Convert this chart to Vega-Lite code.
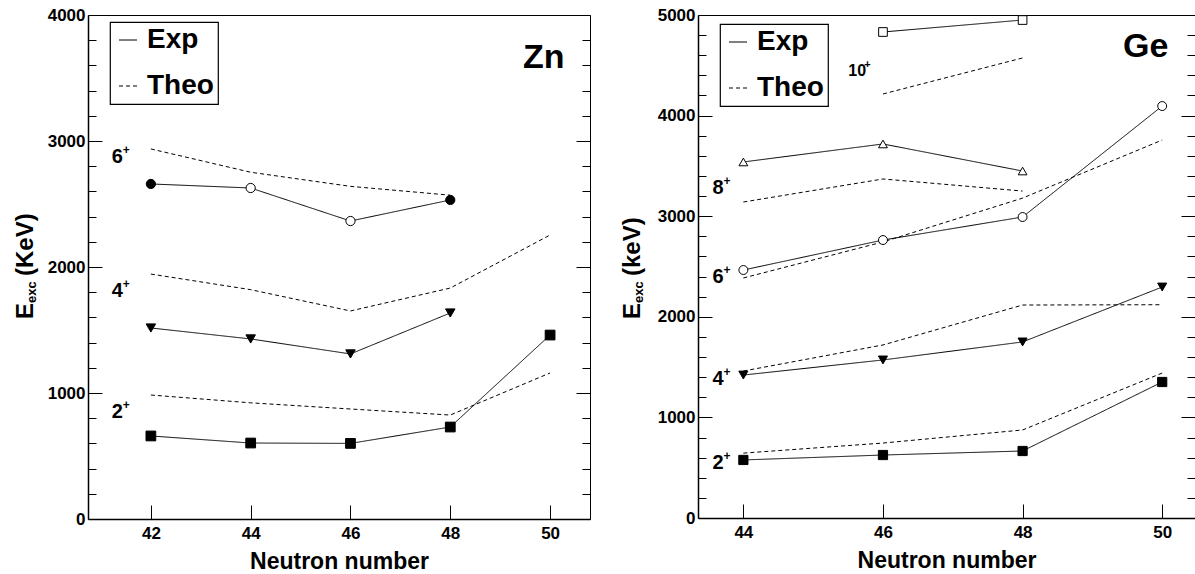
{
  "$schema": "https://vega.github.io/schema/vega-lite/v6.json",
  "background": "white",
  "padding": {"left": 13, "top": 6, "right": 0, "bottom": 0},
  "spacing": 30,
  "config": {
    "font": "Liberation Sans",
    "view": {"stroke": null},
    "axis": {"grid": false, "labelFont": "Liberation Sans", "labelFontWeight": "bold", "labelFontSize": 17, "labelColor": "black", "tickColor": "black", "tickWidth": 1, "domainColor": "black", "titleFont": "Liberation Sans", "titleFontWeight": "bold", "titleFontSize": 23, "titleColor": "black", "labelFlush": false, "format": "d"},
    "legend": {"title": null, "orient": "none", "legendX": 22, "legendY": 8, "fillColor": "white", "strokeColor": "black", "strokeWidth": 1.2, "padding": 4, "labelFont": "Liberation Sans", "labelFontWeight": "bold", "labelFontSize": 28, "labelColor": "black", "symbolType": "stroke", "symbolSize": 324, "symbolStrokeWidth": 1, "symbolStrokeColor": "black", "rowPadding": 18, "labelOffset": 5, "labelExpr": "datum.label + '\u00a0'"}
  },
  "datasets": {
    "pts": [
      {"panel": "Zn", "N": 42, "E": 659, "level": "2+", "type": "Exp", "hollow": false},
      {"panel": "Zn", "N": 44, "E": 603, "level": "2+", "type": "Exp", "hollow": false},
      {"panel": "Zn", "N": 46, "E": 600, "level": "2+", "type": "Exp", "hollow": false},
      {"panel": "Zn", "N": 48, "E": 730, "level": "2+", "type": "Exp", "hollow": false},
      {"panel": "Zn", "N": 50, "E": 1460, "level": "2+", "type": "Exp", "hollow": false},
      {"panel": "Zn", "N": 42, "E": 984, "level": "2+", "type": "Theo", "hollow": false},
      {"panel": "Zn", "N": 44, "E": 922, "level": "2+", "type": "Theo", "hollow": false},
      {"panel": "Zn", "N": 46, "E": 873, "level": "2+", "type": "Theo", "hollow": false},
      {"panel": "Zn", "N": 48, "E": 825, "level": "2+", "type": "Theo", "hollow": false},
      {"panel": "Zn", "N": 50, "E": 1159, "level": "2+", "type": "Theo", "hollow": false},
      {"panel": "Zn", "N": 42, "E": 1516, "level": "4+", "type": "Exp", "hollow": false},
      {"panel": "Zn", "N": 44, "E": 1429, "level": "4+", "type": "Exp", "hollow": false},
      {"panel": "Zn", "N": 46, "E": 1310, "level": "4+", "type": "Exp", "hollow": false},
      {"panel": "Zn", "N": 48, "E": 1635, "level": "4+", "type": "Exp", "hollow": false},
      {"panel": "Zn", "N": 42, "E": 1944, "level": "4+", "type": "Theo", "hollow": false},
      {"panel": "Zn", "N": 44, "E": 1820, "level": "4+", "type": "Theo", "hollow": false},
      {"panel": "Zn", "N": 46, "E": 1651, "level": "4+", "type": "Theo", "hollow": false},
      {"panel": "Zn", "N": 48, "E": 1833, "level": "4+", "type": "Theo", "hollow": false},
      {"panel": "Zn", "N": 50, "E": 2254, "level": "4+", "type": "Theo", "hollow": false},
      {"panel": "Zn", "N": 42, "E": 2659, "level": "6+", "type": "Exp", "hollow": false},
      {"panel": "Zn", "N": 44, "E": 2627, "level": "6+", "type": "Exp", "hollow": true},
      {"panel": "Zn", "N": 46, "E": 2365, "level": "6+", "type": "Exp", "hollow": true},
      {"panel": "Zn", "N": 48, "E": 2532, "level": "6+", "type": "Exp", "hollow": false},
      {"panel": "Zn", "N": 42, "E": 2937, "level": "6+", "type": "Theo", "hollow": false},
      {"panel": "Zn", "N": 44, "E": 2752, "level": "6+", "type": "Theo", "hollow": false},
      {"panel": "Zn", "N": 46, "E": 2640, "level": "6+", "type": "Theo", "hollow": false},
      {"panel": "Zn", "N": 48, "E": 2570, "level": "6+", "type": "Theo", "hollow": false},
      {"panel": "Ge", "N": 44, "E": 577, "level": "2+", "type": "Exp", "hollow": false},
      {"panel": "Ge", "N": 46, "E": 626, "level": "2+", "type": "Exp", "hollow": false},
      {"panel": "Ge", "N": 48, "E": 666, "level": "2+", "type": "Exp", "hollow": false},
      {"panel": "Ge", "N": 50, "E": 1352, "level": "2+", "type": "Exp", "hollow": false},
      {"panel": "Ge", "N": 44, "E": 645, "level": "2+", "type": "Theo", "hollow": false},
      {"panel": "Ge", "N": 46, "E": 745, "level": "2+", "type": "Theo", "hollow": false},
      {"panel": "Ge", "N": 48, "E": 875, "level": "2+", "type": "Theo", "hollow": false},
      {"panel": "Ge", "N": 50, "E": 1441, "level": "2+", "type": "Theo", "hollow": false},
      {"panel": "Ge", "N": 44, "E": 1421, "level": "4+", "type": "Exp", "hollow": false},
      {"panel": "Ge", "N": 46, "E": 1571, "level": "4+", "type": "Exp", "hollow": false},
      {"panel": "Ge", "N": 48, "E": 1750, "level": "4+", "type": "Exp", "hollow": false},
      {"panel": "Ge", "N": 50, "E": 2296, "level": "4+", "type": "Exp", "hollow": false},
      {"panel": "Ge", "N": 44, "E": 1461, "level": "4+", "type": "Theo", "hollow": false},
      {"panel": "Ge", "N": 46, "E": 1720, "level": "4+", "type": "Theo", "hollow": false},
      {"panel": "Ge", "N": 48, "E": 2117, "level": "4+", "type": "Theo", "hollow": false},
      {"panel": "Ge", "N": 50, "E": 2120, "level": "4+", "type": "Theo", "hollow": false},
      {"panel": "Ge", "N": 44, "E": 2465, "level": "6+", "type": "Exp", "hollow": true},
      {"panel": "Ge", "N": 46, "E": 2763, "level": "6+", "type": "Exp", "hollow": true},
      {"panel": "Ge", "N": 48, "E": 2992, "level": "6+", "type": "Exp", "hollow": true},
      {"panel": "Ge", "N": 50, "E": 4095, "level": "6+", "type": "Exp", "hollow": true},
      {"panel": "Ge", "N": 44, "E": 2386, "level": "6+", "type": "Theo", "hollow": false},
      {"panel": "Ge", "N": 46, "E": 2744, "level": "6+", "type": "Theo", "hollow": false},
      {"panel": "Ge", "N": 48, "E": 3180, "level": "6+", "type": "Theo", "hollow": false},
      {"panel": "Ge", "N": 50, "E": 3757, "level": "6+", "type": "Theo", "hollow": false},
      {"panel": "Ge", "N": 44, "E": 3539, "level": "8+", "type": "Exp", "hollow": true},
      {"panel": "Ge", "N": 46, "E": 3718, "level": "8+", "type": "Exp", "hollow": true},
      {"panel": "Ge", "N": 48, "E": 3449, "level": "8+", "type": "Exp", "hollow": true},
      {"panel": "Ge", "N": 44, "E": 3141, "level": "8+", "type": "Theo", "hollow": false},
      {"panel": "Ge", "N": 46, "E": 3370, "level": "8+", "type": "Theo", "hollow": false},
      {"panel": "Ge", "N": 48, "E": 3250, "level": "8+", "type": "Theo", "hollow": false},
      {"panel": "Ge", "N": 46, "E": 4831, "level": "10+", "type": "Exp", "hollow": true},
      {"panel": "Ge", "N": 48, "E": 4950, "level": "10+", "type": "Exp", "hollow": true},
      {"panel": "Ge", "N": 46, "E": 4215, "level": "10+", "type": "Theo", "hollow": false},
      {"panel": "Ge", "N": 48, "E": 4573, "level": "10+", "type": "Theo", "hollow": false}
    ],
    "levels": [
      {"panel": "Zn", "spin": "6", "x": 41.218, "y": 2825},
      {"panel": "Zn", "spin": "4", "x": 41.218, "y": 1762},
      {"panel": "Zn", "spin": "2", "x": 41.218, "y": 802},
      {"panel": "Ge", "spin": "10", "x": 45.504, "y": 4394},
      {"panel": "Ge", "spin": "8", "x": 43.556, "y": 3221},
      {"panel": "Ge", "spin": "6", "x": 43.556, "y": 2336},
      {"panel": "Ge", "spin": "4", "x": 43.556, "y": 1322},
      {"panel": "Ge", "spin": "2", "x": 43.556, "y": 487}
    ],
    "names": [
      {"panel": "Zn", "name": "Zn", "x": 49.455, "y": 3579},
      {"panel": "Ge", "name": "Ge", "x": 49.44, "y": 4583}
    ],
    "ytitles": [
      {"panel": "Zn", "unit": "(KeV)", "x": 39.63, "y": 1587},
      {"panel": "Ge", "unit": "(keV)", "x": 42.52, "y": 1978}
    ]
  },
  "resolve": {"scale": {"x": "independent", "y": "independent", "strokeDash": "independent", "shape": "independent", "size": "independent"}, "legend": {"strokeDash": "independent"}},
  "hconcat": [
    {
      "width": 502,
      "height": 504,
      "resolve": {"axis": {"x": "independent", "y": "independent"}},
      "layer": [
        {
          "data": {"name": "pts"},
          "transform": [{"filter": "datum.panel == 'Zn'"}],
          "mark": {"type": "line", "color": "black", "strokeWidth": 1},
          "encoding": {
            "x": {"field": "N", "type": "quantitative", "scale": {"domain": [40.74, 50.8], "nice": false, "zero": false}, "axis": {"orient": "bottom", "values": [42, 44, 46, 48, 50], "tickSize": -14, "labelPadding": 20, "title": "Neutron number", "titlePadding": 9, "domainWidth": 1.5}},
            "y": {"field": "E", "type": "quantitative", "scale": {"domain": [0, 4000], "nice": false}, "axis": {"orient": "left", "values": [0, 1000, 2000, 3000, 4000], "tickSize": -14, "labelPadding": 17, "title": null, "domainWidth": 1.5}},
            "detail": {"field": "level"},
            "strokeDash": {"field": "type", "type": "nominal", "scale": {"domain": ["Exp", "Theo"], "range": [[1, 0], [4, 3]]}, "legend": {"orient": "none", "legendX": 22, "legendY": 7}}
          }
        },
        {
          "data": {"name": "pts"},
          "transform": [{"filter": "datum.panel == 'Zn' && datum.type == 'Exp'"}],
          "mark": {"type": "point", "filled": true, "stroke": "black", "strokeWidth": 1, "opacity": 1},
          "encoding": {
            "x": {"field": "N", "type": "quantitative", "scale": {"domain": [40.74, 50.8], "nice": false, "zero": false}, "axis": {"orient": "top", "ticks": false, "labels": false, "title": null, "domainWidth": 1}},
            "y": {"field": "E", "type": "quantitative", "scale": {"domain": [0, 4000], "nice": false}, "axis": {"orient": "left", "values": [200, 400, 600, 800, 1200, 1400, 1600, 1800, 2200, 2400, 2600, 2800, 3200, 3400, 3600, 3800], "tickSize": -8, "labels": false, "domain": false, "title": null}},
            "shape": {"field": "level", "type": "nominal", "scale": {"domain": ["2+", "4+", "6+", "8+", "10+"], "range": ["square", "triangle-down", "circle", "triangle-up", "square"]}, "legend": null},
            "size": {"field": "level", "type": "ordinal", "scale": {"domain": ["2+", "4+", "6+", "8+", "10+"], "range": [95, 75, 100, 110, 81]}, "legend": null},
            "fill": {"condition": {"test": "datum.hollow", "value": "white"}, "value": "black"}
          }
        },
        {
          "data": {"name": "levels"},
          "transform": [{"filter": "datum.panel == 'Zn'"}],
          "mark": {"type": "text", "align": "left", "baseline": "alphabetic", "fontSize": 20, "fontWeight": "bold", "font": "Liberation Sans", "color": "black"},
          "encoding": {
            "x": {"field": "x", "type": "quantitative", "scale": {"domain": [40.74, 50.8], "nice": false, "zero": false}, "axis": null},
            "y": {"field": "y", "type": "quantitative", "scale": {"domain": [0, 4000], "nice": false}, "axis": {"orient": "right", "values": [0, 1000, 2000, 3000, 4000], "tickSize": -14, "labels": false, "title": null, "domainWidth": 1}},
            "text": {"field": "spin"}
          }
        },
        {
          "data": {"name": "levels"},
          "transform": [{"filter": "datum.panel == 'Zn'"}],
          "mark": {"type": "text", "align": "left", "baseline": "alphabetic", "fontSize": 12, "fontWeight": "bold", "font": "Liberation Sans", "color": "black", "dx": 11, "dy": -9, "text": "+"},
          "encoding": {
            "x": {"field": "x", "type": "quantitative", "scale": {"domain": [40.74, 50.8], "nice": false, "zero": false}, "axis": null},
            "y": {"field": "y", "type": "quantitative", "scale": {"domain": [0, 4000], "nice": false}, "axis": {"orient": "right", "values": [200, 400, 600, 800, 1200, 1400, 1600, 1800, 2200, 2400, 2600, 2800, 3200, 3400, 3600, 3800], "tickSize": -8, "labels": false, "domain": false, "title": null}}
          }
        },
        {
          "data": {"name": "names"},
          "transform": [{"filter": "datum.panel == 'Zn'"}],
          "mark": {"type": "text", "align": "left", "baseline": "alphabetic", "fontSize": 34, "fontWeight": "bold", "font": "Liberation Sans", "color": "black"},
          "encoding": {
            "x": {"field": "x", "type": "quantitative", "scale": {"domain": [40.74, 50.8], "nice": false, "zero": false}, "axis": null},
            "y": {"field": "y", "type": "quantitative", "scale": {"domain": [0, 4000], "nice": false}, "axis": null},
            "text": {"field": "name"}
          }
        },
        {
          "data": {"name": "ytitles"},
          "transform": [{"filter": "datum.panel == 'Zn'"}],
          "mark": {"type": "text", "align": "left", "baseline": "alphabetic", "angle": 270, "fontSize": 24, "fontWeight": "bold", "font": "Liberation Sans", "color": "black", "text": "E"},
          "encoding": {
            "x": {"field": "x", "type": "quantitative", "scale": {"domain": [40.74, 50.8], "nice": false, "zero": false}, "axis": null},
            "y": {"field": "y", "type": "quantitative", "scale": {"domain": [0, 4000], "nice": false}, "axis": null}
          }
        },
        {
          "data": {"name": "ytitles"},
          "transform": [{"filter": "datum.panel == 'Zn'"}],
          "mark": {"type": "text", "align": "left", "baseline": "alphabetic", "angle": 270, "fontSize": 13, "fontWeight": "bold", "font": "Liberation Sans", "color": "black", "text": "exc", "dx": 16, "dy": 3},
          "encoding": {
            "x": {"field": "x", "type": "quantitative", "scale": {"domain": [40.74, 50.8], "nice": false, "zero": false}, "axis": null},
            "y": {"field": "y", "type": "quantitative", "scale": {"domain": [0, 4000], "nice": false}, "axis": null}
          }
        },
        {
          "data": {"name": "ytitles"},
          "transform": [{"filter": "datum.panel == 'Zn'"}],
          "mark": {"type": "text", "align": "left", "baseline": "alphabetic", "angle": 270, "fontSize": 24, "fontWeight": "bold", "font": "Liberation Sans", "color": "black", "dx": 43},
          "encoding": {
            "x": {"field": "x", "type": "quantitative", "scale": {"domain": [40.74, 50.8], "nice": false, "zero": false}, "axis": null},
            "y": {"field": "y", "type": "quantitative", "scale": {"domain": [0, 4000], "nice": false}, "axis": null},
            "text": {"field": "unit"}
          }
        }
      ]
    },
    {
      "width": 497,
      "height": 503,
      "resolve": {"axis": {"x": "independent", "y": "independent"}},
      "layer": [
        {
          "data": {"name": "pts"},
          "transform": [{"filter": "datum.panel == 'Ge'"}],
          "mark": {"type": "line", "color": "black", "strokeWidth": 1},
          "encoding": {
            "x": {"field": "N", "type": "quantitative", "scale": {"domain": [43.35, 50.47], "nice": false, "zero": false}, "axis": {"orient": "bottom", "values": [44, 46, 48, 50], "tickSize": -14, "labelPadding": 20, "title": "Neutron number", "titlePadding": 9, "domainWidth": 1.5}},
            "y": {"field": "E", "type": "quantitative", "scale": {"domain": [0, 5000], "nice": false}, "axis": {"orient": "left", "values": [0, 1000, 2000, 3000, 4000, 5000], "tickSize": -14, "labelPadding": 17, "title": null, "domainWidth": 1.5}},
            "detail": {"field": "level"},
            "strokeDash": {"field": "type", "type": "nominal", "scale": {"domain": ["Exp", "Theo"], "range": [[1, 0], [4, 3]]}, "legend": {"orient": "none", "legendX": 22, "legendY": 9}}
          }
        },
        {
          "data": {"name": "pts"},
          "transform": [{"filter": "datum.panel == 'Ge' && datum.type == 'Exp'"}],
          "mark": {"type": "point", "filled": true, "stroke": "black", "strokeWidth": 1, "opacity": 1},
          "encoding": {
            "x": {"field": "N", "type": "quantitative", "scale": {"domain": [43.35, 50.47], "nice": false, "zero": false}, "axis": {"orient": "top", "ticks": false, "labels": false, "title": null, "domainWidth": 1}},
            "y": {"field": "E", "type": "quantitative", "scale": {"domain": [0, 5000], "nice": false}, "axis": {"orient": "left", "values": [200, 400, 600, 800, 1200, 1400, 1600, 1800, 2200, 2400, 2600, 2800, 3200, 3400, 3600, 3800, 4200, 4400, 4600, 4800], "tickSize": -8, "labels": false, "domain": false, "title": null}},
            "shape": {"field": "level", "type": "nominal", "scale": {"domain": ["2+", "4+", "6+", "8+", "10+"], "range": ["square", "triangle-down", "circle", "triangle-up", "square"]}, "legend": null},
            "size": {"field": "level", "type": "ordinal", "scale": {"domain": ["2+", "4+", "6+", "8+", "10+"], "range": [85, 75, 100, 110, 81]}, "legend": null},
            "fill": {"condition": {"test": "datum.hollow", "value": "white"}, "value": "black"}
          }
        },
        {
          "data": {"name": "levels"},
          "transform": [{"filter": "datum.panel == 'Ge'"}],
          "mark": {"type": "text", "align": "left", "baseline": "alphabetic", "fontSize": 20, "fontWeight": "bold", "font": "Liberation Sans", "color": "black"},
          "encoding": {
            "x": {"field": "x", "type": "quantitative", "scale": {"domain": [43.35, 50.47], "nice": false, "zero": false}, "axis": null},
            "y": {"field": "y", "type": "quantitative", "scale": {"domain": [0, 5000], "nice": false}, "axis": {"orient": "right", "values": [0, 1000, 2000, 3000, 4000, 5000], "tickSize": -14, "labels": false, "title": null, "domainWidth": 1}},
            "text": {"field": "spin"},
            "size": {"condition": {"test": "datum.spin == '10'", "value": 16}, "value": 20}
          }
        },
        {
          "data": {"name": "levels"},
          "transform": [{"filter": "datum.panel == 'Ge' && datum.spin != '10'"}],
          "mark": {"type": "text", "align": "left", "baseline": "alphabetic", "fontSize": 12, "fontWeight": "bold", "font": "Liberation Sans", "color": "black", "dx": 11, "dy": -9, "text": "+"},
          "encoding": {
            "x": {"field": "x", "type": "quantitative", "scale": {"domain": [43.35, 50.47], "nice": false, "zero": false}, "axis": null},
            "y": {"field": "y", "type": "quantitative", "scale": {"domain": [0, 5000], "nice": false}, "axis": {"orient": "right", "values": [200, 400, 600, 800, 1200, 1400, 1600, 1800, 2200, 2400, 2600, 2800, 3200, 3400, 3600, 3800, 4200, 4400, 4600, 4800], "tickSize": -8, "labels": false, "domain": false, "title": null}}
          }
        },
        {
          "data": {"name": "levels"},
          "transform": [{"filter": "datum.panel == 'Ge' && datum.spin == '10'"}],
          "mark": {"type": "text", "align": "left", "baseline": "alphabetic", "fontSize": 11, "fontWeight": "bold", "font": "Liberation Sans", "color": "black", "dx": 16, "dy": -8, "text": "+"},
          "encoding": {
            "x": {"field": "x", "type": "quantitative", "scale": {"domain": [43.35, 50.47], "nice": false, "zero": false}, "axis": null},
            "y": {"field": "y", "type": "quantitative", "scale": {"domain": [0, 5000], "nice": false}, "axis": null}
          }
        },
        {
          "data": {"name": "names"},
          "transform": [{"filter": "datum.panel == 'Ge'"}],
          "mark": {"type": "text", "align": "left", "baseline": "alphabetic", "fontSize": 34, "fontWeight": "bold", "font": "Liberation Sans", "color": "black"},
          "encoding": {
            "x": {"field": "x", "type": "quantitative", "scale": {"domain": [43.35, 50.47], "nice": false, "zero": false}, "axis": null},
            "y": {"field": "y", "type": "quantitative", "scale": {"domain": [0, 5000], "nice": false}, "axis": null},
            "text": {"field": "name"}
          }
        },
        {
          "data": {"name": "ytitles"},
          "transform": [{"filter": "datum.panel == 'Ge'"}],
          "mark": {"type": "text", "align": "left", "baseline": "alphabetic", "angle": 270, "fontSize": 24, "fontWeight": "bold", "font": "Liberation Sans", "color": "black", "text": "E"},
          "encoding": {
            "x": {"field": "x", "type": "quantitative", "scale": {"domain": [43.35, 50.47], "nice": false, "zero": false}, "axis": null},
            "y": {"field": "y", "type": "quantitative", "scale": {"domain": [0, 5000], "nice": false}, "axis": null}
          }
        },
        {
          "data": {"name": "ytitles"},
          "transform": [{"filter": "datum.panel == 'Ge'"}],
          "mark": {"type": "text", "align": "left", "baseline": "alphabetic", "angle": 270, "fontSize": 13, "fontWeight": "bold", "font": "Liberation Sans", "color": "black", "text": "exc", "dx": 16, "dy": 3},
          "encoding": {
            "x": {"field": "x", "type": "quantitative", "scale": {"domain": [43.35, 50.47], "nice": false, "zero": false}, "axis": null},
            "y": {"field": "y", "type": "quantitative", "scale": {"domain": [0, 5000], "nice": false}, "axis": null}
          }
        },
        {
          "data": {"name": "ytitles"},
          "transform": [{"filter": "datum.panel == 'Ge'"}],
          "mark": {"type": "text", "align": "left", "baseline": "alphabetic", "angle": 270, "fontSize": 24, "fontWeight": "bold", "font": "Liberation Sans", "color": "black", "dx": 43},
          "encoding": {
            "x": {"field": "x", "type": "quantitative", "scale": {"domain": [43.35, 50.47], "nice": false, "zero": false}, "axis": null},
            "y": {"field": "y", "type": "quantitative", "scale": {"domain": [0, 5000], "nice": false}, "axis": null},
            "text": {"field": "unit"}
          }
        }
      ]
    }
  ]
}
